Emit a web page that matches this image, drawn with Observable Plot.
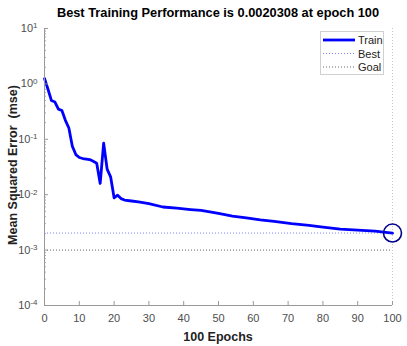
<!DOCTYPE html>
<html>
<head>
<meta charset="utf-8">
<script src="https://cdn.jsdelivr.net/npm/d3@7"></script>
<script src="https://cdn.jsdelivr.net/npm/@observablehq/plot@0.6"></script>
<style>
  html, body { margin: 0; padding: 0; background: #fff; }
  svg { font-family: Arial, "Liberation Sans", sans-serif; }
</style>
</head>
<body>
<div id="chart"></div>
<script>
const titleText = "Best Training Performance is 0.0020308 at epoch 100";
const xLabel = "100 Epochs";
const yLabel = "Mean Squared Error  (mse)";
const epochs = [0,1,2,3,4,5,6,7,8,9,10,11,12,13,14,15,16,17,18,19,20,21,22,23,25,27,30,34,38,42,45,50,54,58,62,66,71,76,80,85,90,95,100];
const mse = [1.25,0.8,0.5,0.47,0.35,0.33,0.22,0.16,0.075,0.053,0.047,0.045,0.044,0.043,0.04,0.037,0.016,0.085,0.029,0.021,0.0088,0.0098,0.0085,0.008,0.0077,0.0074,0.0069,0.006,0.0057,0.0054,0.0052,0.0046,0.0041,0.0038,0.0035,0.0033,0.003,0.0028,0.0026,0.0024,0.0023,0.0022,0.0020308];
const bestEpoch = 100;
const bestValue = 0.0020308;
const goalValue = 0.001;
const xTicks = [0,10,20,30,40,50,60,70,80,90,100];
const yMajor = [1e-4,1e-3,1e-2,1e-1,1,10];
const yMinor = [];
for (const p of [-4,-3,-2,-1,0]) for (let m = 2; m <= 9; m++) yMinor.push(m * Math.pow(10, p));
const legendLabels = ["Train", "Best", "Goal"];

const data = epochs.map((e, i) => ({epoch: e, mse: mse[i]}));

const W = 407, H = 346;
const mL = 44, mR = 15, mT = 28, mB = 41;
const pw = W - mL - mR, ph = H - mT - mB;

const plot = Plot.plot({
  width: W, height: H,
  marginLeft: mL, marginRight: mR, marginTop: mT, marginBottom: mB,
  style: {fontFamily: "Arial, 'Liberation Sans', sans-serif", fontSize: "11px", color: "#4d4d4d", background: "#fff"},
  x: {domain: [0, 100]},
  y: {type: "log", domain: [1e-4, 10]},
  marks: [
    Plot.ruleX([100], {stroke: "#c8c8c8", strokeDasharray: "1,2"}),
    Plot.ruleY([bestValue], {stroke: "#8080ff", strokeWidth: 1, strokeDasharray: "1,2"}),
    Plot.ruleY([goalValue], {stroke: "#666", strokeWidth: 1, strokeDasharray: "1,2"}),
    Plot.line(data, {x: "epoch", y: "mse", stroke: "#0000ff", strokeWidth: 2.8, strokeLinejoin: "round"}),
    Plot.dot([{epoch: bestEpoch, mse: bestValue}], {x: "epoch", y: "mse", r: 9, stroke: "#00008b", strokeWidth: 1.6, fill: "none"}),
    Plot.axisX({ticks: xTicks, tickSize: 0, tickPadding: 9, tickFormat: d => String(d), fill: "#4d4d4d", label: null}),
    Plot.axisY({ticks: yMajor, tickSize: 0, tickPadding: 7, tickFormat: d => String(Math.round(Math.log10(d))), fill: "#4d4d4d", label: null}),
    Plot.tickX(xTicks, {x: d => d, stroke: "#999", insetTop: ph - 4}),
    Plot.tickY(yMajor, {y: d => d, stroke: "#999", insetRight: pw - 4}),
    Plot.tickY(yMinor, {y: d => d, stroke: "#aaa", insetRight: pw - 2}),
    Plot.ruleX([0], {stroke: "#999"}),
    Plot.ruleY([1e-4], {stroke: "#999"})
  ]
});

document.getElementById("chart").appendChild(plot);
const svg = d3.select(plot);

// superscript exponents on y tick labels
svg.selectAll('g[aria-label="y-axis tick label"] text').each(function () {
  const t = d3.select(this);
  const exp = t.text();
  if (!exp) return;
  t.text(null);
  t.append("tspan").text("10");
  t.append("tspan").attr("dy", "-0.45em").attr("font-size", "8px").text(exp);
});

// title and axis labels
svg.append("text").attr("x", 218).attr("y", 17).attr("text-anchor", "middle")
  .attr("font-weight", "bold").attr("font-size", "12.8px").attr("fill", "#000").text(titleText);
svg.append("text").attr("x", 218).attr("y", 341).attr("text-anchor", "middle")
  .attr("font-weight", "bold").attr("font-size", "12.5px").attr("fill", "#222").text(xLabel);
svg.append("text").attr("transform", "translate(17,165) rotate(-90)").attr("text-anchor", "middle")
  .attr("font-weight", "bold").attr("font-size", "12.5px").attr("fill", "#222").text(yLabel);

// legend
const lg = svg.append("g").attr("text-anchor", "start");
lg.append("rect").attr("x", 320.5).attr("y", 31.5).attr("width", 63).attr("height", 43)
  .attr("fill", "#fff").attr("stroke", "#d0d0d0");
const styles = [
  {stroke: "#0000ff", width: 2.8, dash: null},
  {stroke: "#8080ff", width: 1, dash: "1,2"},
  {stroke: "#666", width: 1, dash: "1,2"}
];
legendLabels.forEach((lab, i) => {
  const y = 40 + i * 13.5;
  lg.append("line").attr("x1", 323).attr("x2", 355).attr("y1", y).attr("y2", y)
    .attr("stroke", styles[i].stroke).attr("stroke-width", styles[i].width)
    .attr("stroke-dasharray", styles[i].dash);
  lg.append("text").attr("x", 358).attr("y", y + 4).attr("font-size", "11px").attr("fill", "#222").text(lab);
});
</script>
</body>
</html>
